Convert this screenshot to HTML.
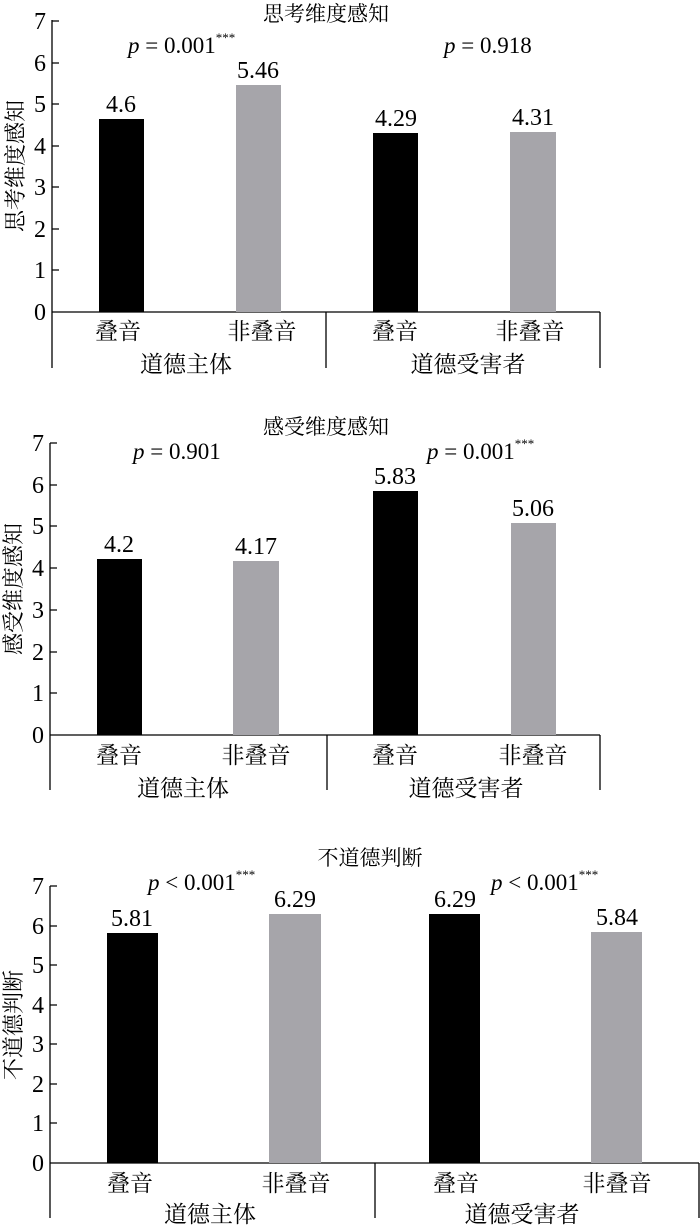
<!DOCTYPE html>
<html><head><meta charset="utf-8"><style>
html,body{margin:0;padding:0;background:#fff}
svg{display:block}
text{font-family:"Liberation Serif","Noto Serif CJK SC",serif;fill:#000}
.c{font-family:"Liberation Serif","Noto Serif CJK SC","Noto Sans CJK SC",serif}
</style></head><body>
<svg width="700" height="1226" viewBox="0 0 700 1226" xmlns="http://www.w3.org/2000/svg">
<g stroke="#000" stroke-width="1.3" fill="none">
<line x1="52" y1="20" x2="52" y2="368"/>
<line x1="52" y1="312" x2="600" y2="312"/>
<line x1="326" y1="312" x2="326" y2="368"/>
<line x1="600" y1="312" x2="600" y2="368"/>
<path d="M52 21h7M52 63h7M52 104h7M52 146h7M52 187h7M52 229h7M52 270h7"/>
<line x1="50" y1="443" x2="50" y2="790"/>
<line x1="50" y1="735" x2="600" y2="735"/>
<line x1="327" y1="735" x2="327" y2="790"/>
<line x1="600" y1="735" x2="600" y2="790"/>
<path d="M50 443h7M50 485h7M50 526h7M50 568h7M50 610h7M50 652h7M50 693h7"/>
<line x1="50" y1="886" x2="50" y2="1218"/>
<line x1="50" y1="1163" x2="699" y2="1163"/>
<line x1="375" y1="1163" x2="375" y2="1218"/>
<line x1="699" y1="1163" x2="699" y2="1218"/>
<path d="M50 886h7M50 926h7M50 965h7M50 1005h7M50 1044h7M50 1084h7M50 1123h7"/>
</g>
<rect x="99" y="119" width="45" height="193" fill="#000"/>
<rect x="236" y="85" width="45" height="227" fill="#a6a5aa"/>
<rect x="373" y="133" width="45" height="179" fill="#000"/>
<rect x="510" y="132" width="46" height="180" fill="#a6a5aa"/>

<rect x="97" y="559" width="45" height="176" fill="#000"/>
<rect x="233" y="561" width="46" height="174" fill="#a6a5aa"/>
<rect x="373" y="491" width="45" height="244" fill="#000"/>
<rect x="511" y="523" width="45" height="212" fill="#a6a5aa"/>

<rect x="107" y="933" width="51" height="230" fill="#000"/>
<rect x="269" y="914" width="52" height="249" fill="#a6a5aa"/>
<rect x="429" y="914" width="51" height="249" fill="#000"/>
<rect x="591" y="932" width="51" height="231" fill="#a6a5aa"/>

<g font-size="24" text-anchor="end">
<text x="46" y="29">7</text><text x="46" y="71">6</text><text x="46" y="112">5</text><text x="46" y="154">4</text><text x="46" y="195">3</text><text x="46" y="237">2</text><text x="46" y="278">1</text><text x="46" y="320">0</text>
<text x="44" y="451">7</text><text x="44" y="493">6</text><text x="44" y="534">5</text><text x="44" y="576">4</text><text x="44" y="618">3</text><text x="44" y="660">2</text><text x="44" y="701">1</text><text x="44" y="743">0</text>
<text x="44" y="894">7</text><text x="44" y="934">6</text><text x="44" y="973">5</text><text x="44" y="1013">4</text><text x="44" y="1052">3</text><text x="44" y="1092">2</text><text x="44" y="1131">1</text><text x="44" y="1171">0</text>
</g>
<g font-size="24" text-anchor="middle">
<text x="121" y="112">4.6</text><text x="258" y="78">5.46</text><text x="396" y="126">4.29</text><text x="533" y="125">4.31</text>
<text x="119" y="552">4.2</text><text x="256" y="554">4.17</text><text x="395" y="484">5.83</text><text x="533" y="516">5.06</text>
<text x="132" y="926">5.81</text><text x="295" y="907">6.29</text><text x="455" y="907">6.29</text><text x="617" y="925">5.84</text>
</g>
<g font-size="23">
<text x="128" y="53"><tspan font-style="italic">p</tspan> = 0.001<tspan font-size="13" dy="-11">***</tspan></text>
<text x="444" y="53"><tspan font-style="italic">p</tspan> = 0.918</text>
<text x="133" y="459"><tspan font-style="italic">p</tspan> = 0.901</text>
<text x="427" y="459"><tspan font-style="italic">p</tspan> = 0.001<tspan font-size="13" dy="-11">***</tspan></text>
<text x="148" y="890"><tspan font-style="italic">p</tspan> &lt; 0.001<tspan font-size="13" dy="-11">***</tspan></text>
<text x="491" y="890"><tspan font-style="italic">p</tspan> &lt; 0.001<tspan font-size="13" dy="-11">***</tspan></text>
</g>
<g class="c" font-size="21" text-anchor="middle">
<text x="326" y="21">思考维度感知</text>
<text x="326" y="434">感受维度感知</text>
<text x="370" y="865">不道德判断</text>
</g>
<g class="c" font-size="23" text-anchor="middle">
<text x="118" y="339">叠音</text><text x="262" y="339">非叠音</text><text x="395" y="339">叠音</text><text x="530" y="339">非叠音</text>
<text x="186" y="372">道德主体</text><text x="468" y="372">道德受害者</text>
<text x="119" y="763">叠音</text><text x="256" y="763">非叠音</text><text x="395" y="763">叠音</text><text x="533" y="763">非叠音</text>
<text x="183" y="796">道德主体</text><text x="466" y="796">道德受害者</text>
<text x="130" y="1191">叠音</text><text x="296" y="1191">非叠音</text><text x="456" y="1191">叠音</text><text x="617" y="1191">非叠音</text>
<text x="210" y="1222">道德主体</text><text x="522" y="1222">道德受害者</text>
</g>
<g class="c" font-size="22" text-anchor="middle">
<text transform="translate(23,166) rotate(-90)">思考维度感知</text>
<text transform="translate(21,589) rotate(-90)">感受维度感知</text>
<text transform="translate(21,1025) rotate(-90)">不道德判断</text>
</g>
</svg>
</body></html>
